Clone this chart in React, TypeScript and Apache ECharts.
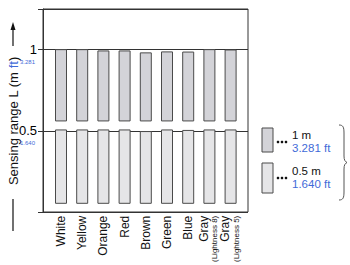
import React, { useEffect, useRef } from "react";
import * as echarts from "echarts";

const categories = ["White", "Yellow", "Orange", "Red", "Brown", "Green", "Blue", "Gray (Lightness 8)", "Gray (Lightness 5)"];
const range1m = [1.0, 1.0, 0.992, 0.992, 0.98, 0.986, 0.985, 1.0, 0.998];
const range05m = [0.5, 0.5, 0.5, 0.5, 0.49, 0.5, 0.497, 0.5, 0.5];
const lowerBarStart = 0.037;
const upperBarStart = 0.55;
const yTickMain: Record<string, string> = { "0.5": "0.5", "1": "1" };
const yTickFeet: Record<string, string> = { "0.5": "1.640", "1": "3.281" };
const legendItems = [
  { m: "1 m", ft: "3.281 ft" },
  { m: "0.5 m", ft: "1.640 ft" },
];

const FONT = "Liberation Sans, Arial, sans-serif";
const BLUE = "#3f6bd8";
const UPPER_FILL = "#d3d3d8";
const LOWER_FILL = "#e5e5e7";
const BORDER = "#4a4a4a";

export default function App() {
  const ref = useRef<HTMLDivElement>(null);
  useEffect(() => {
    if (!ref.current) return;
    echarts.graphic.registerShape(
      "brace",
      echarts.graphic.extendPath(
        "M0,0 C4,0 5,2 5,8 L5,31 C5,35 6,36.5 8,37.5 C6,38.5 5,40 5,44 L5,67 C5,73 4,75 0,75",
        {}
      )
    );
    const chart = echarts.init(ref.current, undefined, { renderer: "svg" });
    const barStyle = (fill: string) => ({ color: fill, borderColor: BORDER, borderWidth: 1 });
    const clear = { color: "rgba(0,0,0,0)", borderWidth: 0 };
    const common = { type: "bar", stack: "s", xAxisIndex: 1, yAxisIndex: 1, barWidth: 12, silent: true };
    chart.setOption({
      animation: false,
      textStyle: { fontFamily: FONT },
      grid: [
        { left: 43, top: 9, width: 205, height: 203, show: true, borderColor: "#333", borderWidth: 1, backgroundColor: "transparent" },
        { left: 50.4, top: 9, width: 190.8, height: 203 },
      ],
      xAxis: [
        { type: "value", gridIndex: 0, show: false, min: 0, max: 1 },
        {
          type: "category",
          gridIndex: 1,
          data: categories,
          axisLine: { show: false },
          axisTick: { show: false },
          axisLabel: {
            rotate: 90,
            margin: 6,
            interval: 0,
            fontFamily: FONT,
            fontSize: 12,
            color: "#111",
            formatter: (v: string) => {
              const m = v.match(/^(\S+) (\(.*\))$/);
              return m ? `{g|${m[1]}}\n{s|${m[2]}}` : v;
            },
            rich: {
              g: { fontSize: 12, lineHeight: 11, color: "#111", fontFamily: FONT },
              s: { fontSize: 8, lineHeight: 11, color: "#111", fontFamily: FONT },
            },
          },
        },
      ],
      yAxis: [
        {
          type: "value",
          gridIndex: 0,
          min: 0,
          max: 1.25,
          interval: 0.5,
          axisLine: { show: true, lineStyle: { color: "#333", width: 1 } },
          axisTick: { show: true, length: 5, lineStyle: { color: "#333" } },
          splitLine: { show: true, lineStyle: { color: "#333", width: 1 } },
          axisLabel: {
            margin: 6,
            align: "right",
            formatter: (v: number) => {
              const k = String(v);
              if (!yTickMain[k]) return "";
              return `{e| }\n{a|${yTickMain[k]}}\n{b|${yTickFeet[k]}}`;
            },
            rich: {
              e: { fontSize: 6, lineHeight: 10 },
              a: { fontSize: 13, lineHeight: 14, color: "#000", fontFamily: FONT, align: "right" },
              b: { fontSize: 6, lineHeight: 10, color: BLUE, fontFamily: FONT, align: "right", padding: [0, 2, 0, 0] },
            },
          },
        },
        { type: "value", gridIndex: 1, min: 0, max: 1.25, show: false },
      ],
      series: [
        { ...common, name: "base", data: range05m.map(() => lowerBarStart), itemStyle: clear },
        { ...common, name: "0.5 m", data: range05m.map((v) => +(v - lowerBarStart).toFixed(4)), itemStyle: barStyle(LOWER_FILL) },
        { ...common, name: "gap", data: range05m.map((v) => +(upperBarStart - v).toFixed(4)), itemStyle: clear },
        { ...common, name: "1 m", data: range1m.map((v) => +(v - upperBarStart).toFixed(4)), itemStyle: barStyle(UPPER_FILL) },
      ],
      graphic: [
        {
          type: "text",
          x: 13,
          y: 121,
          rotation: Math.PI / 2,
          style: {
            text: "{k|Sensing range L (m }{f|ft}{k|)}",
            rich: {
              k: { fontSize: 13, fill: "#111", fontFamily: FONT },
              f: { fontSize: 13, fill: BLUE, fontFamily: FONT },
            },
            align: "center",
            verticalAlign: "middle",
          },
        },
        { type: "line", shape: { x1: 13, y1: 46, x2: 13, y2: 28 }, style: { stroke: "#111", lineWidth: 1.2 } },
        { type: "polygon", shape: { points: [[10.5, 30], [13, 22], [15.5, 30]] }, style: { fill: "#111" } },
        { type: "line", shape: { x1: 13, y1: 199, x2: 13, y2: 231 }, style: { stroke: "#111", lineWidth: 1.2 } },
        { type: "rect", shape: { x: 262, y: 128, width: 11, height: 24 }, style: { fill: UPPER_FILL, stroke: BORDER, lineWidth: 1 } },
        { type: "rect", shape: { x: 262, y: 163, width: 11, height: 30 }, style: { fill: LOWER_FILL, stroke: BORDER, lineWidth: 1 } },
        ...[142, 178].flatMap((cy) =>
          [278, 282, 286].map((cx) => ({ type: "circle", shape: { cx, cy, r: 1.3 }, style: { fill: "#111" } }))
        ),
        ...legendItems.flatMap((it, i) => [
          { type: "text", x: 292, y: i === 0 ? 135 : 171, style: { text: it.m, fontSize: 11.5, fill: "#111", fontFamily: FONT, verticalAlign: "middle" } },
          { type: "text", x: 292, y: i === 0 ? 148 : 184, style: { text: it.ft, fontSize: 11.5, fill: BLUE, fontFamily: FONT, verticalAlign: "middle" } },
        ]),
        { type: "brace", x: 339, y: 125, style: { stroke: "#555", fill: "none", lineWidth: 1 } },
      ],
    });
    return () => chart.dispose();
  }, []);
  return <div ref={ref} style={{ position: "fixed", left: 0, top: 0, width: 350, height: 265, background: "#fff" }} />;
}
